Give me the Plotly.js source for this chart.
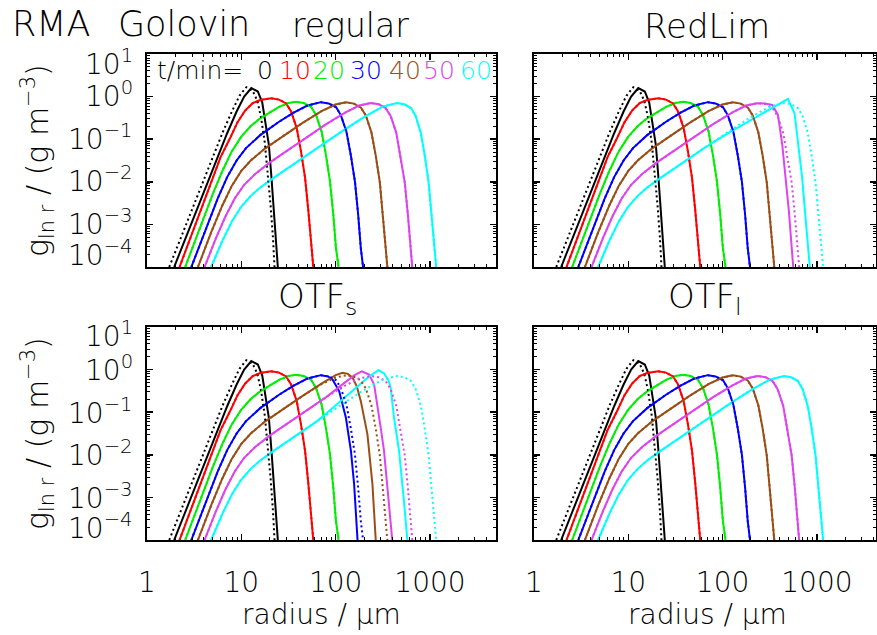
<!DOCTYPE html>
<html><head><meta charset="utf-8">
<script src="https://cdn.plot.ly/plotly-3.0.1.min.js"></script>
<style>html,body{margin:0;padding:0;background:#fff}#c{width:877px;height:635px}</style>
</head><body><div id="c"></div>
<script>
// ---------------- data (radius in um, g_lnr in g m^-3) ----------------
const times = [0, 10, 20, 30, 40, 50, 60];
const xTickLabels = ['1', '10', '100', '1000'];
const yTickLabels = ['10<sup>1</sup>', '10<sup>0</sup>', '10<sup>\u22121</sup>', '10<sup>\u22122</sup>', '10<sup>\u22123</sup>', '10<sup>\u22124</sup>'];

// reference (dotted) solutions
const refR_t0 = [1.722, 2.239, 3.162, 4.467, 6.31, 7.943, 9.55, 11.30, 13.18, 14.79, 16.22, 17.78, 19.05, 20.42, 21.63, 22.49];
const refG_t0 = [1e-4, 4.37e-4, 3.09e-3, 0.0214, 0.141, 0.447, 1.047, 1.66, 1.38, 0.794, 0.316, 0.0794, 0.0178, 2.82e-3, 5.0e-4, 1e-4];
const refR_t10 = [2.213, 3.162, 4.467, 6.026, 7.586, 9.12, 10.96, 13.18, 15.85, 20.75, 25.12, 29.85, 33.73, 38.64, 42.95, 47.42, 51.40, 54.83, 57.94];
const refG_t10 = [1e-4, 8.51e-4, 6.76e-3, 0.038, 0.105, 0.251, 0.468, 0.700, 0.832, 0.912, 0.851, 0.692, 0.447, 0.182, 0.0513, 0.0123, 2.04e-3, 3.39e-4, 1e-4];
const refR_t20 = [2.541, 3.548, 5.012, 6.31, 7.943, 10.0, 12.59, 15.85, 19.95, 25.12, 31.62, 38.11, 45.81, 54.83, 61.94, 70.96, 78.89, 87.1, 94.41, 100.7, 107.4];
const refG_t20 = [1e-4, 7.41e-4, 5.37e-3, 0.0182, 0.0525, 0.115, 0.204, 0.309, 0.427, 0.575, 0.708, 0.759, 0.708, 0.575, 0.372, 0.151, 0.0427, 0.0102, 1.70e-3, 2.82e-4, 1e-4];
const refR_t30 = [2.951, 4.169, 5.623, 7.079, 8.913, 11.22, 15.85, 25.12, 35.48, 50.12, 69.98, 84.14, 101.2, 113.8, 130.3, 144.9, 160.3, 173.4, 184.9, 195.4];
const refG_t30 = [1e-4, 7.59e-4, 4.07e-3, 0.0129, 0.0316, 0.0617, 0.1245, 0.257, 0.413, 0.617, 0.741, 0.692, 0.562, 0.363, 0.148, 0.0417, 0.01, 1.66e-3, 2.75e-4, 1e-4];
const refR_t40 = [3.467, 4.786, 6.31, 7.943, 10.0, 12.59, 17.78, 28.18, 44.67, 70.79, 100.0, 128.5, 155.6, 184.9, 208.9, 239.3, 266.1, 293.8, 318.4, 339.6, 353.2];
const refG_t40 = [1e-4, 6.46e-4, 2.82e-3, 8.13e-3, 0.018, 0.0316, 0.0603, 0.1233, 0.242, 0.455, 0.653, 0.733, 0.684, 0.556, 0.359, 0.146, 0.0412, 9.89e-3, 1.64e-3, 2.72e-4, 1e-4];
const refR_t50 = [4.074, 5.37, 6.761, 8.511, 10.72, 14.13, 19.95, 31.62, 50.12, 79.43, 125.9, 177.8, 236.0, 285.8, 339.6, 383.7, 439.5, 488.7, 540.8, 584.8, 623.7, 648.6];
const refG_t50 = [1e-4, 4.68e-4, 1.51e-3, 4.07e-3, 8.51e-3, 0.0155, 0.0282, 0.0571, 0.1138, 0.2254, 0.4217, 0.617, 0.708, 0.661, 0.537, 0.347, 0.141, 0.0398, 9.55e-3, 1.585e-3, 2.63e-4, 1e-4];
const refR_t60 = [4.786, 6.31, 7.943, 10.0, 12.59, 15.85, 22.39, 35.48, 63.1, 112.2, 199.5, 316.2, 450.8, 534.6, 631.0, 706.3, 799.8, 883.1, 968.3, 1042, 1107, 1164];
const refG_t60 = [1e-4, 4.17e-4, 1.175e-3, 2.63e-3, 4.68e-3, 7.33e-3, 0.01274, 0.0257, 0.061, 0.1445, 0.331, 0.582, 0.708, 0.661, 0.537, 0.347, 0.141, 0.0398, 9.55e-3, 1.585e-3, 2.63e-4, 1e-4];

// initial condition (solid, all panels)
const solR_t0 = [1.941, 2.512, 3.548, 5.012, 7.079, 8.913, 10.72, 12.76, 14.96, 16.67, 18.07, 19.59, 20.89, 22.28, 23.39, 24.38];
const solG_t0 = [1e-4, 4.27e-4, 3.02e-3, 0.0209, 0.138, 0.447, 1.0, 1.585, 1.318, 0.724, 0.257, 0.0741, 0.0123, 2.04e-3, 3.39e-4, 1e-4];

// RedLim solids that depart from the reference
const redlimR_t50 = [4.074, 5.37, 6.761, 8.511, 10.72, 14.13, 19.95, 31.62, 50.12, 79.43, 125.9, 177.8, 233.9, 281.8, 336.5, 386.4, 405.5, 429.5, 465.6, 504.7, 561.0];
const redlimG_t50 = [1e-4, 4.68e-4, 1.51e-3, 4.07e-3, 8.51e-3, 0.0155, 0.0282, 0.0571, 0.1138, 0.2254, 0.4217, 0.617, 0.700, 0.692, 0.638, 0.372, 0.182, 0.0741, 0.0123, 2.04e-3, 1e-4];
const redlimR_t60 = [4.786, 6.31, 7.943, 10.0, 12.59, 15.85, 22.39, 35.48, 63.1, 112.2, 199.5, 316.2, 493.2, 579.4, 633.9, 698.2, 763.8, 841.4];
const redlimG_t60 = [1e-4, 4.17e-4, 1.175e-3, 2.63e-3, 4.68e-3, 7.33e-3, 0.01274, 0.0257, 0.061, 0.135, 0.282, 0.501, 0.883, 0.407, 0.0741, 0.0123, 1.175e-3, 1e-4];

// OTF_s solids that depart from the reference
const otfsR_t30 = [2.951, 4.169, 5.623, 7.079, 8.913, 11.22, 15.85, 25.12, 35.48, 50.12, 69.98, 83.18, 92.68, 109.1, 128.5, 145.2, 157.0, 170.6];
const otfsG_t30 = [1e-4, 7.59e-4, 4.07e-3, 0.0129, 0.0316, 0.0617, 0.1245, 0.257, 0.413, 0.617, 0.741, 0.692, 0.589, 0.309, 0.0741, 0.0123, 2.04e-3, 1e-4];
const otfsR_t40 = [3.467, 4.786, 6.31, 7.943, 10.0, 12.59, 17.78, 28.18, 44.67, 70.79, 100.0, 118.3, 134.9, 151.0, 167.9, 184.9, 217.3, 245.5, 266.1];
const otfsG_t40 = [1e-4, 6.46e-4, 2.82e-3, 8.13e-3, 0.018, 0.0316, 0.0603, 0.1233, 0.242, 0.468, 0.741, 0.838, 0.794, 0.646, 0.398, 0.182, 0.0302, 2.04e-3, 1e-4];
const otfsR_t50 = [4.074, 5.37, 6.761, 8.511, 10.72, 14.13, 19.95, 31.62, 50.12, 79.43, 125.9, 158.5, 189.7, 226.5, 255.9, 277.3, 300.6, 325.8, 362.2, 398.1];
const otfsG_t50 = [1e-4, 4.68e-4, 1.51e-3, 4.07e-3, 8.51e-3, 0.0155, 0.0282, 0.0571, 0.1138, 0.2254, 0.501, 0.741, 0.912, 0.764, 0.447, 0.151, 0.0427, 0.0123, 1.175e-3, 1e-4];
const otfsR_t60 = [4.786, 6.31, 7.943, 10.0, 12.59, 15.85, 22.39, 35.48, 63.1, 79.43, 112.2, 163.7, 223.9, 283.8, 323.6, 363.1, 383.7, 415.9, 469.9, 529.7, 575.4];
const otfsG_t60 = [1e-4, 4.17e-4, 1.175e-3, 2.63e-3, 4.68e-3, 7.33e-3, 0.01274, 0.0257, 0.061, 0.0933, 0.178, 0.372, 0.676, 0.966, 0.832, 0.562, 0.372, 0.0741, 0.0123, 8.32e-4, 1e-4];

// ---------------- styling / assembly ----------------
const colors = ['#000000', '#ff0000', '#00ee00', '#0000ff', '#9a4e16', '#dd44ee', '#00ffff'];
const FONT = '"DejaVu Sans", sans-serif';
const FW = 200;
const W = 877, H = 635;
const px = v => v / W, py = v => 1 - v / H;

const refCurves = [[refR_t0, refG_t0], [refR_t10, refG_t10], [refR_t20, refG_t20], [refR_t30, refG_t30], [refR_t40, refG_t40], [refR_t50, refG_t50], [refR_t60, refG_t60]];
const sol0 = [solR_t0, solG_t0];
const panels = [
  {xa: 'x', ya: 'y', solids: [sol0, refCurves[1], refCurves[2], refCurves[3], refCurves[4], refCurves[5], refCurves[6]]},
  {xa: 'x2', ya: 'y2', solids: [sol0, refCurves[1], refCurves[2], refCurves[3], refCurves[4], [redlimR_t50, redlimG_t50], [redlimR_t60, redlimG_t60]]},
  {xa: 'x3', ya: 'y3', solids: [sol0, refCurves[1], refCurves[2], [otfsR_t30, otfsG_t30], [otfsR_t40, otfsG_t40], [otfsR_t50, otfsG_t50], [otfsR_t60, otfsG_t60]]},
  {xa: 'x4', ya: 'y4', solids: [sol0, refCurves[1], refCurves[2], refCurves[3], refCurves[4], refCurves[5], refCurves[6]]}
];

const traces = [];
panels.forEach(p => {
  times.forEach((t, i) => {
    traces.push({x: p.solids[i][0], y: p.solids[i][1], xaxis: p.xa, yaxis: p.ya, mode: 'lines',
      line: {color: colors[i], width: 2}, showlegend: false, hoverinfo: 'skip'});
  });
  times.forEach((t, i) => {
    traces.push({x: refCurves[i][0], y: refCurves[i][1], xaxis: p.xa, yaxis: p.ya, mode: 'lines',
      line: {color: colors[i], width: 2, dash: '2px,3px'}, showlegend: false, hoverinfo: 'skip'});
  });
});

function xAxis(dom, anchor, range, labels) {
  return {type: 'log', domain: dom, anchor: anchor, range: range, showline: true, linewidth: 2, linecolor: '#000',
    mirror: 'ticks', ticks: 'inside', ticklen: 6, tickwidth: 1.5, tickcolor: '#000', showgrid: false, zeroline: false,
    tickmode: 'array', tickvals: [1, 10, 100, 1000], ticktext: xTickLabels, showticklabels: labels,
    ticklabelstandoff: 16, tickfont: {family: FONT, size: 28, color: '#000', weight: FW},
    minor: {ticks: 'inside', ticklen: 3, tickwidth: 1, tickcolor: '#000', showgrid: false,
      tickvals: [2,3,4,5,6,7,8,9,20,30,40,50,60,70,80,90,200,300,400,500,600,700,800,900,2000,3000,4000]}};
}
function yAxis(dom, anchor) {
  const mv = [];
  for (let e = -4; e <= 0; e++) for (let k = 2; k <= 9; k++) mv.push(k * Math.pow(10, e));
  return {type: 'log', domain: dom, anchor: anchor, range: [-4, 1], showline: true, linewidth: 2, linecolor: '#000',
    mirror: 'ticks', ticks: 'inside', ticklen: 6, tickwidth: 1.5, tickcolor: '#000', showgrid: false, zeroline: false,
    tickmode: 'array', tickvals: [1e-4, 1e-3, 1e-2, 1e-1, 1, 10], showticklabels: false,
    minor: {ticks: 'inside', ticklen: 3, tickwidth: 1, tickcolor: '#000', showgrid: false, tickvals: mv}};
}

const xL = [px(147), px(496)], xR = [px(534), px(876)];
const yT = [py(267), py(54)], yB = [py(540), py(327)];

const ann = [];
function txt(text, x, y, size, opts) {
  ann.push(Object.assign({text: text, x: px(x), y: py(y), xref: 'paper', yref: 'paper', showarrow: false,
    xanchor: 'center', yanchor: 'middle', font: {family: FONT, size: size, color: '#000', weight: FW}}, opts || {}));
}
txt('RMA', 10, 24, 35, {xanchor: 'left'});
txt('Golovin', 116, 24, 35, {xanchor: 'left'});
txt('regular', 350, 26, 33);
txt('RedLim', 707, 26, 34);
txt('OTF<sub>s</sub>', 318, 298, 34);
txt('OTF<sub>l</sub>', 705, 298, 34);
txt('radius / \u03bcm', 321, 614, 28);
txt('radius / \u03bcm', 707, 614, 28);
[161, 434].forEach(yc => {
  txt('g<sub>ln r</sub> / (g m<sup>\u22123</sup>)', 37, yc, 30, {textangle: -90});
});
// legend text
txt('t/min=', 155, 70, 25, {xanchor: 'left'});
const legX = [265, 295, 329, 366, 405, 439, 476];
times.forEach((t, i) => txt(String(t), legX[i], 70, 25, {font: {family: FONT, size: 25, color: colors[i], weight: FW}}));
// y tick labels (left panels)
const yLabPix = [66, 99, 142, 184, 227, 257];
[0, 273].forEach(off => {
  yTickLabels.forEach((s, i) => txt(s, 135, yLabPix[i] + off - 4, 28, {xanchor: 'right'}));
});

const layout = {
  width: W, height: H, margin: {l: 0, r: 0, t: 0, b: 0}, paper_bgcolor: '#fff', plot_bgcolor: '#fff',
  showlegend: false, font: {family: FONT, color: '#000', weight: FW},
  xaxis: xAxis(xL, 'y', [0, 3.7], false),
  yaxis: yAxis(yT, 'x'),
  xaxis2: xAxis(xR, 'y2', [0, 3.627], false),
  yaxis2: yAxis(yT, 'x2'),
  xaxis3: xAxis(xL, 'y3', [0, 3.7], true),
  yaxis3: yAxis(yB, 'x3'),
  xaxis4: xAxis(xR, 'y4', [0, 3.627], true),
  yaxis4: yAxis(yB, 'x4'),
  annotations: ann
};
Plotly.newPlot('c', traces, layout, {staticPlot: true});
</script></body></html>
